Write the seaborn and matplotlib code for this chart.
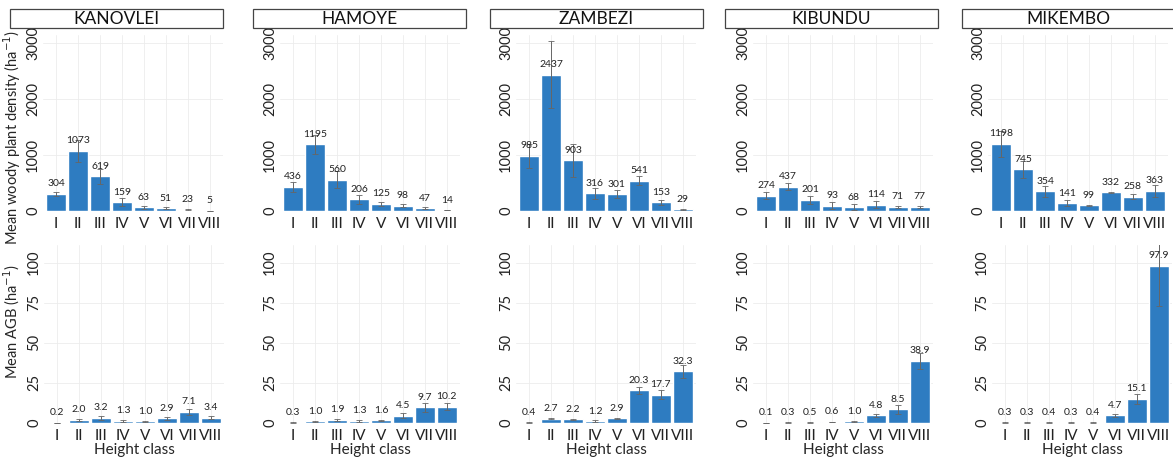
import seaborn as sns
import matplotlib.pyplot as plt
import pandas as pd
from matplotlib.patches import Rectangle

sns.set_style("whitegrid")
plt.rcParams['font.family'] = ['Lato', 'DejaVu Sans']

# data
sites = ["KANOVLEI", "HAMOYE", "ZAMBEZI", "KIBUNDU", "MIKEMBO"]
classes = ["I", "II", "III", "IV", "V", "VI", "VII", "VIII"]

dens_kanovlei = [304, 1073, 619, 159, 63, 51, 23, 5]
dens_hamoye = [436, 1195, 560, 206, 125, 98, 47, 14]
dens_zambezi = [985, 2437, 903, 316, 301, 541, 153, 29]
dens_kibundu = [274, 437, 201, 93, 68, 114, 71, 77]
dens_mikembo = [1198, 745, 354, 141, 99, 332, 258, 363]

dens_se_kanovlei = [30, 200, 130, 70, 20, 20, 10, 3]
dens_se_hamoye = [90, 170, 150, 80, 40, 30, 20, 5]
dens_se_zambezi = [220, 600, 300, 100, 70, 80, 40, 10]
dens_se_kibundu = [60, 70, 70, 60, 50, 60, 15, 15]
dens_se_mikembo = [230, 150, 100, 50, 15, 10, 40, 110]

agb_kanovlei = [0.2, 2.0, 3.2, 1.3, 1.0, 2.9, 7.1, 3.4]
agb_hamoye = [0.3, 1.0, 1.9, 1.3, 1.6, 4.5, 9.7, 10.2]
agb_zambezi = [0.4, 2.7, 2.2, 1.2, 2.9, 20.3, 17.7, 32.3]
agb_kibundu = [0.1, 0.3, 0.5, 0.6, 1.0, 4.8, 8.5, 38.9]
agb_mikembo = [0.3, 0.3, 0.4, 0.3, 0.4, 4.7, 15.1, 97.9]

agb_se_kanovlei = [0.1, 0.5, 1.2, 0.4, 0.3, 1.0, 1.8, 0.8]
agb_se_hamoye = [0.1, 0.3, 0.5, 0.4, 0.4, 1.5, 3.0, 2.0]
agb_se_zambezi = [0.1, 0.4, 0.3, 0.4, 0.5, 2.0, 3.0, 4.0]
agb_se_kibundu = [0.05, 0.1, 0.2, 0.2, 0.3, 1.0, 3.0, 5.0]
agb_se_mikembo = [0.1, 0.1, 0.1, 0.1, 0.1, 1.0, 3.0, 25.0]

density = [dens_kanovlei, dens_hamoye, dens_zambezi, dens_kibundu, dens_mikembo]
density_se = [dens_se_kanovlei, dens_se_hamoye, dens_se_zambezi, dens_se_kibundu, dens_se_mikembo]
agb = [agb_kanovlei, agb_hamoye, agb_zambezi, agb_kibundu, agb_mikembo]
agb_se = [agb_se_kanovlei, agb_se_hamoye, agb_se_zambezi, agb_se_kibundu, agb_se_mikembo]

W, H = 1173, 462
fig = plt.figure(figsize=(W / 100, H / 100), dpi=100)

bar_color = "#2e7cc1"
top_left = [43, 280, 516, 753, 988]
bot_left = [44, 280, 516, 753, 992]
box_left = [10, 253, 490, 725, 962]
ax_w = 180


def px_axes(left, top, width, height):
    return fig.add_axes([left / W, 1 - (top + height) / H, width / W, height / H])


def draw_panel(ax, values, se, labels, ymax, yticks):
    df = pd.DataFrame({"cls": classes, "val": values})
    sns.barplot(data=df, x="cls", y="val", order=classes, color=bar_color,
                saturation=1, width=0.9, errorbar=None, ax=ax)
    ax.errorbar(range(len(classes)), values, yerr=se, fmt="none",
                ecolor="#666666", elinewidth=0.7, capsize=2, capthick=0.6)
    ax.bar_label(ax.containers[0], labels=labels, padding=4,
                 fontsize=7.5, color="#222222")
    ax.set_xlim(-0.6, 7.6)
    ax.set_ylim(0, ymax)
    ax.set_yticks(yticks)
    ax.set_xlabel("")
    ax.set_ylabel("")
    ax.grid(True, color="#ececec", linewidth=0.6)
    for s in ax.spines.values():
        s.set_visible(False)
    ax.tick_params(axis="x", labelsize=11, pad=4, length=0, colors="#222222")
    ax.tick_params(axis="y", labelsize=10.5, pad=2, length=0, colors="#222222",
                   labelrotation=90)
    for t in ax.get_yticklabels():
        t.set_verticalalignment("center")


for i, site in enumerate(sites):
    # top row: density
    ax = px_axes(top_left[i], 35, ax_w, 176)
    draw_panel(ax, density[i], density_se[i], [str(v) for v in density[i]],
               3143, [0, 1000, 2000, 3000])

    # bottom row: AGB
    ax2 = px_axes(bot_left[i], 245, ax_w, 178)
    draw_panel(ax2, agb[i], agb_se[i], [f"{v:.1f}" for v in agb[i]],
               111, [0, 25, 50, 75, 100])
    ax2.set_xlabel("Height class", fontsize=11, labelpad=0)

    # site header box
    fig.patches.append(Rectangle((box_left[i] / W, 1 - 28 / H), 213 / W, 19 / H,
                                 transform=fig.transFigure, facecolor="white",
                                 edgecolor="#444444", linewidth=0.9))
    fig.text((box_left[i] + 106.5) / W, 1 - 18.5 / H, site, ha="center",
             va="center", fontsize=12.5, color="#111111")

fig.text(12 / W, 1 - 138 / H, "Mean woody plant density (ha$^{-1}$)",
         rotation=90, ha="center", va="center", fontsize=10.5)
fig.text(12 / W, 1 - 322 / H, "Mean AGB (ha$^{-1}$)",
         rotation=90, ha="center", va="center", fontsize=10.5)

fig.savefig("out.png", dpi=100)
plt.close()
